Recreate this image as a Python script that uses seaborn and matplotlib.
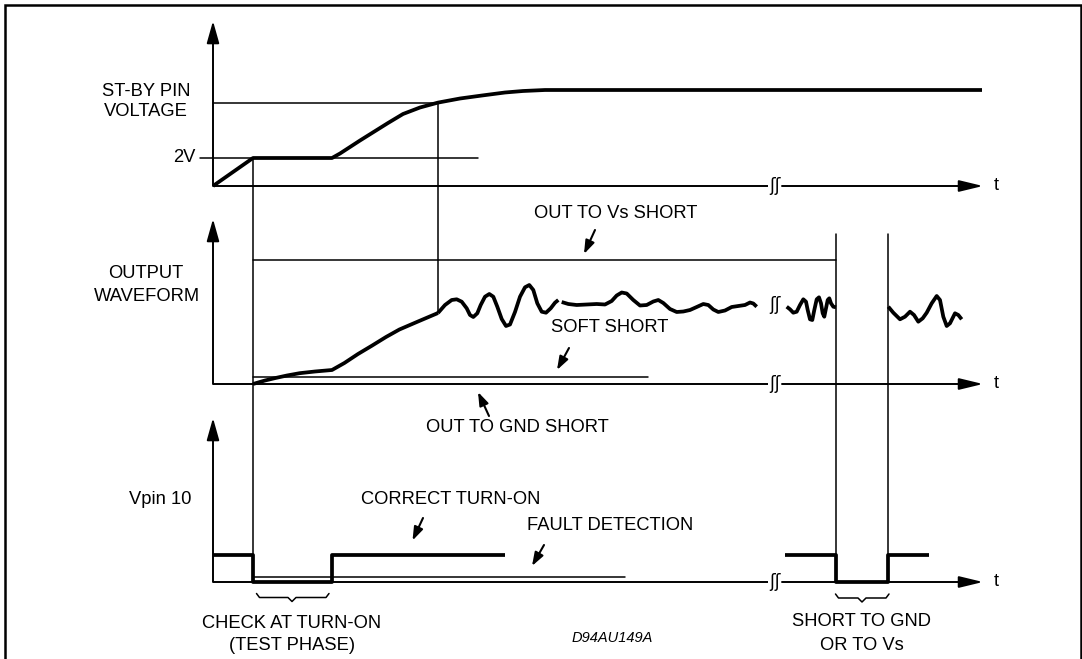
import matplotlib
matplotlib.use("Agg")
import matplotlib.pyplot as plt
import seaborn as sns
import pandas as pd

sns.set_theme(style="white")
plt.rcParams['font.family'] = ['Liberation Sans', 'DejaVu Sans']

# ---------------- data (pixel-space diagram coordinates) ----------------
# Panel base lines (y of time axes) and y-axis tips
axis_x0 = 213
axis_x1 = 983
axis_y = [186, 384, 582]
axis_tip = [21, 219, 418]
break_x = [768, 782]

# ST-BY pin voltage curve
stby_x = [213, 253, 332, 340, 350, 360, 372, 388, 403, 420, 438, 460, 482, 505, 523, 545, 982]
stby_y = [186, 158, 158, 153.5, 147, 140.5, 133, 123, 114, 107.5, 102.6, 98.5, 95.5, 92.5, 91, 90, 90]
level_2v_y = 158
level_2v_x = [200, 478]
level_hi_y = 102.6
level_hi_x = [213, 438]

# Output waveform: turn-on ramp
ramp_x = [253, 265, 275.5, 287, 299.6, 315, 332, 344.4, 358, 371.9, 386, 399.4, 418, 438]
ramp_y = [384, 380.5, 378, 375.5, 373.2, 371.5, 370, 363, 354, 345.7, 337, 329.5, 321.5, 313]
# oscillation segment 1
osc1_x = [438, 445, 451.7, 456.7, 461.7, 466.7, 470, 473.3, 477.3, 480.7, 485, 489.3, 493.3, 497.3,
          501.7, 506, 510, 515, 520, 525, 529.3, 533.3, 537.3, 541.7, 546, 550.7, 555, 558.3]
osc1_y = [313, 305, 300, 299.3, 301.7, 308.3, 315, 317, 313.3, 305, 296.7, 294, 296.7, 306.7,
          319, 326, 324.5, 312, 296.7, 287.3, 285, 290, 303.3, 311.7, 312.7, 308.3, 302.7, 300]
# oscillation segment 2 (soft short)
osc2_x = [561.7, 568.3, 576.7, 586.7, 596.7, 605, 611.7, 616.7, 621.7, 626.7, 633.3, 640, 646.7,
          653.3, 658.3, 663.3, 670, 676.7, 683.3, 690, 696.7, 703.3, 708.3, 713.3, 718.3, 725,
          731.7, 738.3, 745, 750, 753.3, 756.7]
osc2_y = [302, 304, 305, 304.5, 304, 304.5, 301, 295.5, 292.5, 293.5, 300, 305.5, 305, 301.5,
          300, 303, 309, 312, 311.5, 310, 307, 304, 305, 309.5, 312, 310.5, 307, 306, 305,
          302.5, 303.5, 306.7]
# oscillation segment 3 (after break, before short)
osc3_x = [786.7, 790, 793.3, 796.7, 800, 803.3, 806, 807.7, 810, 812.3, 814.3, 816.7, 819, 821,
          822.7, 824.3, 826, 827.7, 829.3, 831, 833.3, 836]
osc3_y = [306.7, 309.3, 312.7, 311.7, 305, 299.3, 301.7, 310, 319.3, 320, 310, 299.3, 297.3, 303.3,
          313.3, 316.7, 308.3, 300, 298.3, 303.3, 306.7, 307.3]
# oscillation segment 4 (after short)
osc4_x = [888.3, 893.3, 900, 905, 910, 914, 918.3, 922.7, 926.7, 931.7, 936.7, 940, 943.3, 946.7,
          950, 955, 958.3, 961.7]
osc4_y = [306.7, 312.7, 319.3, 316.7, 311.7, 315, 321.7, 318.3, 312.7, 303.3, 296, 300, 316.7, 326,
          323.3, 313.3, 315, 319.3]
break_wave_x = 775
break_wave_y = 305

# Short reference lines
vs_short_y = 260
vs_short_x = [253, 836]
soft_short_y = 377
soft_short_x = [253, 648]
fault_y = 577
fault_x = [253, 625]

# Vertical markers
vmark_turnon_x = 253
vmark_turnon_y = [158, 555]
vmark_mid_x = 438
vmark_mid_y = [102.6, 313]
vmark_short_x = [836, 888]
vmark_short_y = [234, 555]

# Vpin 10 signal
vpin_a_x = [213, 253, 253, 332, 332, 504.5]
vpin_a_y = [555, 555, 582, 582, 555, 555]
vpin_b_x = [785.4, 836, 836, 888, 888, 929]
vpin_b_y = [555, 555, 582, 582, 555, 555]

# Braces
brace1_x = [256.5, 259.5, 288, 292, 296, 326, 329]
brace1_y = [593.5, 597.5, 597.5, 601.5, 597.5, 597.5, 593.5]
brace2_x = [835.5, 838.5, 858, 862, 866, 886, 889]
brace2_y = [594, 598, 598, 602, 598, 598, 594]

# Pointer arrows (tail -> tip)
pointers = {
    "vs": ((595, 230), (584, 254)),
    "soft": ((569, 348), (557, 370)),
    "gnd": ((489, 416), (478, 392)),
    "correct": ((423, 518), (412.5, 540.5)),
    "fault": ((544, 545), (532, 566)),
}

# Texts
labels = [
    ("ST-BY PIN", 146, 91, "center"),
    ("VOLTAGE", 146, 112, "center"),
    ("2V", 195, 158, "right"),
    ("OUTPUT", 146, 273.5, "center"),
    ("WAVEFORM", 147, 296.5, "center"),
    ("Vpin 10", 160, 500, "center"),
    ("OUT TO Vs SHORT", 615.5, 213, "center"),
    ("SOFT SHORT", 610, 327, "center"),
    ("OUT TO GND SHORT", 517, 427, "center"),
    ("CORRECT TURN-ON", 451, 500, "center"),
    ("FAULT DETECTION", 610, 526, "center"),
    ("CHECK AT TURN-ON", 292, 623, "center"),
    ("(TEST PHASE)", 292, 645.5, "center"),
    ("SHORT TO GND", 861.5, 622, "center"),
    ("OR TO Vs", 861.5, 646, "center"),
]
code_label = ("D94AU149A", 612, 638)
t_label_x = 996

# Frame
frame_x = [5, 5, 1081, 1081]
frame_y = [662, 4.5, 4.5, 662]

# ---------------- drawing ----------------
W, H = 1082, 659
fig = plt.figure(figsize=(W / 100, H / 100), dpi=100)
fig.patch.set_facecolor("white")
ax = fig.add_axes([0, 0, 1, 1])
ax.set_xlim(0, W)
ax.set_ylim(H, 0)
ax.axis("off")

K = "black"
THIN = 1.1
AXW = 1.4
THICK = 2.7

ax.plot(frame_x, frame_y, color=K, lw=1.8, solid_joinstyle="miter")

# axes with arrowheads
for ya, tip in zip(axis_y, axis_tip):
    ax.annotate("", xy=(axis_x0, tip), xytext=(axis_x0, ya),
                arrowprops=dict(arrowstyle="-|>,head_length=1.35,head_width=0.38",
                                mutation_scale=10, lw=AXW, color=K, fc=K,
                                shrinkA=0, shrinkB=0))
    ax.plot([axis_x0, break_x[0]], [ya, ya], color=K, lw=AXW, solid_capstyle="butt")
    ax.annotate("", xy=(axis_x1, ya), xytext=(break_x[1], ya),
                arrowprops=dict(arrowstyle="-|>,head_length=1.45,head_width=0.35",
                                mutation_scale=10, lw=AXW, color=K, fc=K,
                                shrinkA=0, shrinkB=0))
    ax.text((break_x[0] + break_x[1]) / 2, ya, "ʃʃ", ha="center", va="center",
            fontsize=12, family="DejaVu Sans", color=K)
    ax.text(t_label_x, ya, "t", ha="center", va="center", fontsize=13.2, color=K)

# reference / marker lines
ax.plot(level_2v_x, [level_2v_y] * 2, color=K, lw=THIN)
ax.plot(level_hi_x, [level_hi_y] * 2, color=K, lw=THIN)
ax.plot(vs_short_x, [vs_short_y] * 2, color=K, lw=THIN)
ax.plot(soft_short_x, [soft_short_y] * 2, color=K, lw=THIN)
ax.plot(fault_x, [fault_y] * 2, color=K, lw=THIN)
ax.plot([vmark_turnon_x] * 2, vmark_turnon_y, color=K, lw=THIN)
ax.plot([vmark_mid_x] * 2, vmark_mid_y, color=K, lw=THIN)
for vx in vmark_short_x:
    ax.plot([vx] * 2, vmark_short_y, color=K, lw=THIN)

# thick signals through seaborn
def thick(xs, ys):
    df = pd.DataFrame({"x": xs, "y": ys})
    sns.lineplot(data=df, x="x", y="y", sort=False, estimator=None, ax=ax,
                 color=K, lw=THICK, solid_joinstyle="round", solid_capstyle="butt")

thick(stby_x, stby_y)
thick(ramp_x, ramp_y)
thick(osc1_x, osc1_y)
thick(osc2_x, osc2_y)
thick(osc3_x, osc3_y)
thick(osc4_x, osc4_y)
thick(vpin_a_x, vpin_a_y)
thick(vpin_b_x, vpin_b_y)
ax.text(break_wave_x, break_wave_y, "ʃʃ", ha="center", va="center",
        fontsize=12, family="DejaVu Sans", color=K)

# braces
ax.plot(brace1_x, brace1_y, color=K, lw=1.1)
ax.plot(brace2_x, brace2_y, color=K, lw=1.1)

# pointers
for tail, tip in pointers.values():
    ax.annotate("", xy=tip, xytext=tail,
                arrowprops=dict(arrowstyle="-|>,head_length=0.8,head_width=0.28",
                                mutation_scale=10, lw=1.5, color=K, fc=K,
                                shrinkA=0, shrinkB=0))

# texts
for s, x, y, ha in labels:
    ax.text(x, y, s, ha=ha, va="center", fontsize=13.2, color=K)
ax.text(code_label[1], code_label[2], code_label[0], ha="center", va="center",
        fontsize=10.5, style="italic", color=K)

fig.savefig("out.png", dpi=100, facecolor="white")
